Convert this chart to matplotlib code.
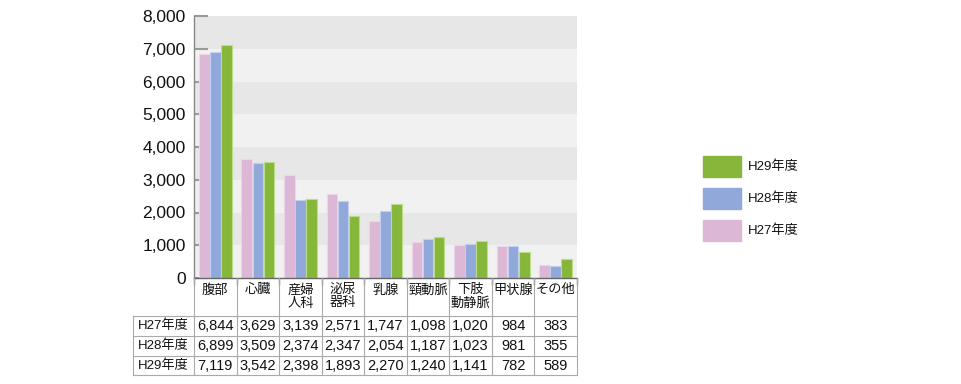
import numpy as np
import matplotlib.pyplot as plt
from matplotlib.patches import Rectangle

plt.rcParams['font.family'] = ['Liberation Sans', 'Noto Sans CJK JP', 'DejaVu Sans']

# -----------------------------
# Données
# -----------------------------
categories = ["腹部", "心臓", "産婦\n人科", "泌尿\n器科", "乳腺", "頸動脈", "下肢\n動静脈", "甲状腺", "その他"]
series_names = ["H27年度", "H28年度", "H29年度"]
h27 = [6844, 3629, 3139, 2571, 1747, 1098, 1020, 984, 383]
h28 = [6899, 3509, 2374, 2347, 2054, 1187, 1023, 981, 355]
h29 = [7119, 3542, 2398, 1893, 2270, 1240, 1141, 782, 589]
yticks = [0, 1000, 2000, 3000, 4000, 5000, 6000, 7000, 8000]

colors = ["#ddb7d6", "#90a8da", "#86b73a"]
edge_colors = ["#ecd6e8", "#c2d0ee", "#bcdc8c"]

W, H = 962, 384
fig = plt.figure(figsize=(W / 100, H / 100), dpi=100)

# zone du graphique (pixels)
x0, x1 = 194, 577
y_top, y_bot = 16, 278
ax = fig.add_axes([x0 / W, 1 - y_bot / H, (x1 - x0) / W, (y_bot - y_top) / H])

n = len(categories)
ax.set_xlim(0, n)
ax.set_ylim(0, 8000)

# bandes de fond alternées
for i in range(8):
    c = "#f1f1f1" if i % 2 == 0 else "#e7e7e7"
    ax.axhspan(i * 1000, (i + 1) * 1000, color=c, zorder=0, lw=0)

x = np.arange(n) + 0.5
bw = 0.25
for k, vals in enumerate([h27, h28, h29]):
    ax.bar(x + (k - 1) * (bw + 0.01), vals, width=bw, color=colors[k],
           edgecolor=edge_colors[k], linewidth=0.8, zorder=2)

ax.set_yticks(yticks)
ax.set_yticklabels([f"{v:,}" for v in yticks], fontsize=12.5, color="#111111")
ax.tick_params(axis='y', direction='in', length=10, width=1.5, color="#999999", pad=6)
ax.set_xticks(np.arange(n + 1))
ax.set_xticklabels([])
ax.tick_params(axis='x', direction='out', length=5, width=1, color="#777777")

for s in ['top', 'right']:
    ax.spines[s].set_visible(False)
ax.spines['left'].set_color("#888888")
ax.spines['bottom'].set_color("#666666")
ax.spines['left'].set_linewidth(1)
ax.spines['bottom'].set_linewidth(1)


# -----------------------------
# Tableau sous le graphique
# -----------------------------
def fx(px):
    return px / W


def fy(py):
    return 1 - py / H


grid_c = "#aaaaaa"
col_w = (x1 - x0) / n
row_y = [316, 336, 356, 375]
tab_left = 133

# lignes horizontales
for ry in row_y:
    fig.add_artist(plt.Line2D([fx(tab_left), fx(x1)], [fy(ry), fy(ry)], color=grid_c, lw=0.8))
# lignes verticales
fig.add_artist(plt.Line2D([fx(tab_left), fx(tab_left)], [fy(row_y[0]), fy(row_y[-1])], color=grid_c, lw=0.8))
for j in range(n + 1):
    xx = x0 + j * col_w
    fig.add_artist(plt.Line2D([fx(xx), fx(xx)], [fy(y_bot), fy(row_y[-1])], color=grid_c, lw=0.8))

# en-têtes
for j, cat in enumerate(categories):
    cx = x0 + (j + 0.5) * col_w
    fig.text(fx(cx), fy(284), cat, ha='center', va='top', fontsize=9.5,
             linespacing=1.15, color="#111111")

# lignes de données
for r, (name, vals) in enumerate(zip(series_names, [h27, h28, h29])):
    cy = (row_y[r] + row_y[r + 1]) / 2
    fig.text(fx((tab_left + x0) / 2), fy(cy), name, ha='center', va='center',
             fontsize=9.5, color="#111111")
    for j, v in enumerate(vals):
        cx = x0 + (j + 0.5) * col_w
        fig.text(fx(cx), fy(cy), f"{v:,}", ha='center', va='center',
                 fontsize=10.5, color="#111111")

# -----------------------------
# Légende
# -----------------------------
leg_items = [("H29年度", colors[2], 156), ("H28年度", colors[1], 188), ("H27年度", colors[0], 220)]
for name, c, ly in leg_items:
    fig.add_artist(Rectangle((fx(703), fy(ly + 21)), 38 / W, 21 / H, color=c,
                             transform=fig.transFigure))
    fig.text(fx(748), fy(ly + 10.5), name, ha='left', va='center', fontsize=9.5, color="#111111")

fig.savefig("out.png", dpi=100)
